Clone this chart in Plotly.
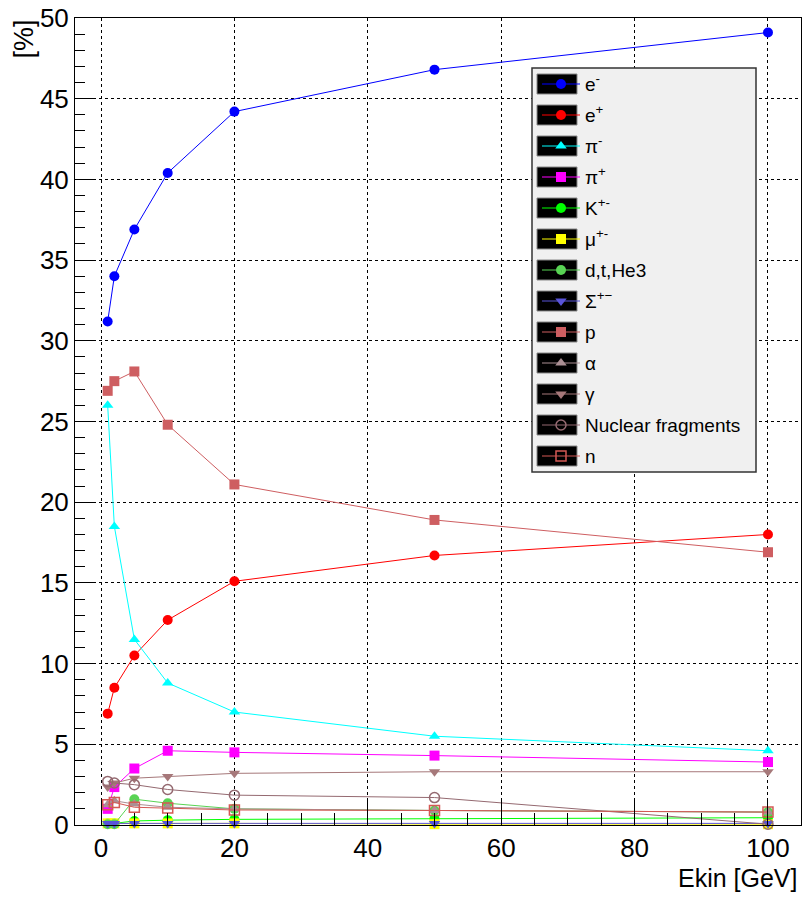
import plotly.graph_objects as go

# ---------------- data ----------------
ekin = [1, 2, 5, 10, 20, 50, 100]

names = ["e<sup>-</sup>", "e<sup>+</sup>", "π<sup>-</sup>", "π<sup>+</sup>", "K<sup>+-</sup>",
         "μ<sup>+-</sup>", "d,t,He3", "Σ<sup>+−</sup>", "p", "α", "γ",
         "Nuclear fragments", "n"]

e_minus   = [31.2, 34.0, 36.9, 40.4, 44.2, 46.8, 49.1]
e_plus    = [6.9, 8.5, 10.5, 12.7, 15.1, 16.7, 18.0]
pi_minus  = [26.0, 18.5, 11.5, 8.8, 7.0, 5.5, 4.6]
pi_plus   = [1.0, 2.35, 3.5, 4.6, 4.5, 4.3, 3.9]
kaon      = [0.1, 0.1, 0.25, 0.3, 0.35, 0.4, 0.45]
muon      = [0.1, 0.1, 0.1, 0.1, 0.1, 0.05, 0.05]
dtHe3     = [0.05, 0.05, 1.6, 1.35, 1.0, 0.9, 0.8]
sigma     = [0.1, 0.1, 0.1, 0.1, 0.1, 0.1, 0.1]
proton    = [26.9, 27.5, 28.1, 24.8, 21.1, 18.9, 16.9]
alpha     = [1.25, 1.5, 1.3, 1.1, 1.0, 0.9, 0.8]
gamma     = [2.35, 2.6, 2.9, 3.0, 3.2, 3.3, 3.3]
nuclear   = [2.7, 2.6, 2.5, 2.2, 1.85, 1.7, 0.05]
neutron   = [1.25, 1.4, 1.1, 1.05, 0.93, 0.9, 0.8]

series = [e_minus, e_plus, pi_minus, pi_plus, kaon, muon, dtHe3, sigma,
          proton, alpha, gamma, nuclear, neutron]
colors = ["#0000ff", "#ff0000", "#00ffff", "#ff00ff", "#00ff00", "#ffff00",
          "#59d454", "#5954d9", "#ce5e61", "#ab8f94", "#a6787a", "#946970", "#d45954"]
symbols = ["circle", "circle", "triangle-up", "square", "circle", "square",
           "circle", "triangle-down", "square", "triangle-up", "triangle-down",
           "circle-open", "square-open"]

FONT = "Liberation Sans Narrow, Liberation Sans, Arial, sans-serif"
LEG_SIZE = 19
LEG_GAP = 31 - (LEG_SIZE * 1.3 + 3)

W, H = 803, 899
ML, MR, MT, MB = 75, 2, 18, 74
PW, PH = W - ML - MR, H - MT - MB


def px2x(p):
    return (p - ML) / PW


def px2y(p):
    return (H - MB - p) / PH


fig = go.Figure()
for i, (nm, ys, c, s) in enumerate(zip(names, series, colors, symbols)):
    fig.add_trace(go.Scatter(
        x=ekin, y=ys, name=nm, mode="lines+markers", legendgroup=f"g{i}",
        line=dict(color=c, width=1),
        marker=dict(color=c, symbol=s, size=10,
                    line=dict(width=1.5 if "open" in s else 0, color=c)),
        cliponaxis=False,
    ))

# legend box and black swatches
shapes = [dict(type="rect", xref="paper", yref="paper", layer="above",
               x0=px2x(532), x1=px2x(756), y0=px2y(472), y1=px2y(68),
               fillcolor="#f0f0f0", line=dict(color="#333333", width=1.5))]
for i in range(len(names)):
    cy = 84 + 31 * i
    shapes.append(dict(type="rect", xref="paper", yref="paper", layer="above",
                       x0=px2x(537), x1=px2x(577), y0=px2y(cy + 10), y1=px2y(cy - 10),
                       fillcolor="black", line=dict(color="#888888", width=1)))

axis_common = dict(
    showline=True, linecolor="black", linewidth=1, mirror=True,
    showgrid=True, gridcolor="black", griddash="dot", gridwidth=1,
    zeroline=False, ticks="inside", tickcolor="black",
    tickfont=dict(family=FONT, size=26, color="black"),
)

fig.update_layout(
    width=W, height=H,
    margin=dict(l=ML, r=MR, t=MT, b=MB),
    paper_bgcolor="white", plot_bgcolor="white",
    xaxis=dict(range=[-3.9, 104.95], tickvals=[0, 20, 40, 60, 80, 100],
               ticklen=24, minor=dict(dtick=5, tick0=0, ticks="inside", ticklen=12,
                                      tickcolor="black", showgrid=False),
               **axis_common),
    yaxis=dict(range=[0, 50], dtick=5, ticklen=20,
               minor=dict(dtick=1, ticks="inside", ticklen=10, tickcolor="black",
                          showgrid=False),
               **axis_common),
    showlegend=True,
    legend=dict(x=px2x(537), y=px2y(84 - 5 - (LEG_SIZE * 1.3 + 3) / 2),
                xanchor="left", yanchor="top",
                bgcolor="rgba(0,0,0,0)", borderwidth=0, itemwidth=38,
                font=dict(family=FONT, size=LEG_SIZE, color="black"),
                traceorder="grouped", tracegroupgap=LEG_GAP),
    shapes=shapes,
    annotations=[
        dict(text="Ekin [GeV]", xref="paper", yref="paper", x=px2x(800), y=px2y(878),
             xanchor="right", yanchor="middle", showarrow=False,
             font=dict(family=FONT, size=25, color="black")),
        dict(text="[%]", xref="paper", yref="paper", x=px2x(23), y=px2y(18),
             xanchor="center", yanchor="top", textangle=-90, showarrow=False,
             font=dict(family=FONT, size=27, color="black")),
    ],
)

fig.write_html("out.html")
